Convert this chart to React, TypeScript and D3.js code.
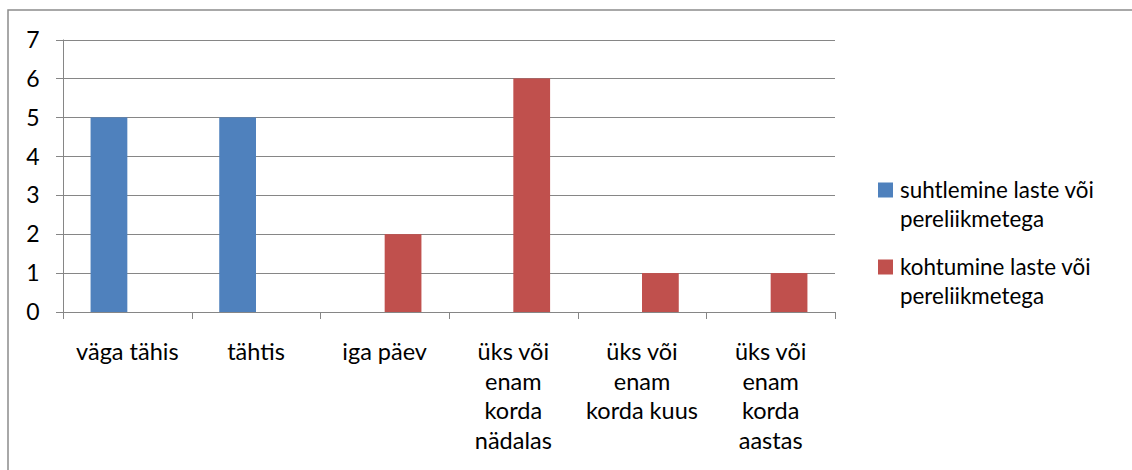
import React from "react";
import * as d3 from "d3";

const categories = [
  "väga tähis",
  "tähtis",
  "iga päev",
  "üks või\nenam\nkorda\nnädalas",
  "üks või\nenam\nkorda kuus",
  "üks või\nenam\nkorda\naastas",
];
const seriesNames = [
  "suhtlemine laste või\npereliikmetega",
  "kohtumine laste või\npereliikmetega",
];
const seriesA = [5, 5, 0, 0, 0, 0];
const seriesB = [0, 0, 2, 6, 1, 1];
const yTicks = [0, 1, 2, 3, 4, 5, 6, 7];
const colors = ["#4F81BD", "#C0504D"];

const W = 1132;
const H = 470;
const plot = { left: 63, right: 835, top: 39.5, bottom: 312 };
const FONT = "Lato, 'Open Sans', sans-serif";

export default function App() {
  const x = d3
    .scaleBand<string>()
    .domain(categories)
    .range([plot.left, plot.right])
    .paddingInner(0)
    .paddingOuter(0);
  const y = d3.scaleLinear().domain([0, 7]).range([plot.bottom, plot.top]);
  const bw = x.bandwidth() / 3.5;
  const series = [seriesA, seriesB];
  const grid = "#868686";

  return (
    <svg
      width={W}
      height={H}
      style={{ position: "absolute", left: 0, top: 0, background: "#fff" }}
      fontFamily={FONT}
    >
      <rect x={0} y={0} width={W} height={H} fill="#fff" />
      <rect x={8} y={10} width={W + 20} height={H + 20} fill="none" stroke="#8c8c8c" strokeWidth={1.5} />
      {yTicks.map((t) => (
        <g key={t}>
          <line x1={56} x2={plot.right} y1={Math.round(y(t)) + 0.5} y2={Math.round(y(t)) + 0.5} stroke={grid} strokeWidth={1} />
          <text x={33} y={y(t)} dy="0.36em" textAnchor="middle" fontSize={23} fill="#000">
            {t}
          </text>
        </g>
      ))}
      <line x1={plot.left + 0.5} x2={plot.left + 0.5} y1={plot.top} y2={plot.bottom + 7} stroke={grid} />
      {categories.map((c, i) => (
        <line key={"t" + i} x1={Math.round(x(c)! + x.bandwidth()) + 0.5} x2={Math.round(x(c)! + x.bandwidth()) + 0.5} y1={plot.bottom} y2={plot.bottom + 7} stroke={grid} />
      ))}
      {series.map((s, si) =>
        s.map((v, i) => {
          if (v === 0) return null;
          const cx = x(categories[i])! + x.bandwidth() / 2;
          const bx = si === 0 ? cx - bw : cx;
          return (
            <rect key={si + "-" + i} x={bx} y={y(v)} width={bw} height={y(0) - y(v)} fill={colors[si]} />
          );
        })
      )}
      {categories.map((c, i) => {
        const cx = x(c)! + x.bandwidth() / 2;
        return (
          <text key={"l" + i} x={cx} y={352} textAnchor="middle" fontSize={23.5} fill="#000">
            {c.split("\n").map((ln, j) => (
              <tspan key={j} x={cx} dy={j === 0 ? "0.35em" : 29.5}>
                {ln}
              </tspan>
            ))}
          </text>
        );
      })}
      {seriesNames.map((n, si) => {
        const ly = 190 + si * 77;
        return (
          <g key={"lg" + si}>
            <rect x={878} y={ly - 7.5} width={15} height={15} fill={colors[si]} />
            <text x={900} y={ly} fontSize={22.4} fill="#000">
              {n.split("\n").map((ln, j) => (
                <tspan key={j} x={900} dy={j === 0 ? "0.35em" : 29.5}>
                  {ln}
                </tspan>
              ))}
            </text>
          </g>
        );
      })}
    </svg>
  );
}
